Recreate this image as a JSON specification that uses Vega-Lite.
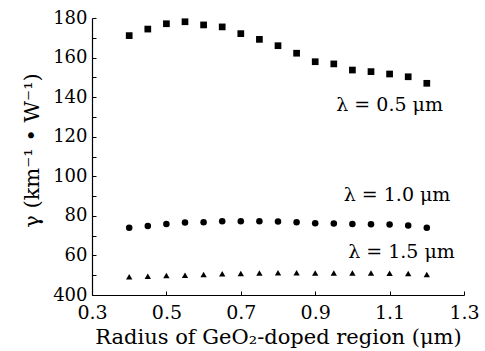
{
  "$schema": "https://vega.github.io/schema/vega-lite/v6.json",
  "width": 372,
  "height": 277,
  "autosize": "none",
  "padding": {"left": 92, "top": 18, "right": 21, "bottom": 56},
  "background": "white",
  "config": {
    "view": {"stroke": null},
    "font": "DejaVu Serif",
    "axis": {
      "domainColor": "black",
      "tickColor": "black",
      "labelColor": "black",
      "titleColor": "black",
      "labelFont": "DejaVu Serif",
      "titleFont": "DejaVu Serif",
      "titleFontWeight": "normal",
      "grid": false,
      "domainWidth": 1.2,
      "tickWidth": 1,
      "labelFlush": false,
      "labelOverlap": false
    }
  },
  "datasets": {
    "pts": [
      {"r": 0.40, "g": 171.1, "s": "0.5"}, {"r": 0.45, "g": 174.4, "s": "0.5"}, {"r": 0.50, "g": 177.1, "s": "0.5"},
      {"r": 0.55, "g": 178.1, "s": "0.5"}, {"r": 0.60, "g": 176.5, "s": "0.5"}, {"r": 0.65, "g": 175.5, "s": "0.5"},
      {"r": 0.70, "g": 172.1, "s": "0.5"}, {"r": 0.75, "g": 169.2, "s": "0.5"}, {"r": 0.80, "g": 166.0, "s": "0.5"},
      {"r": 0.85, "g": 162.2, "s": "0.5"}, {"r": 0.90, "g": 157.9, "s": "0.5"}, {"r": 0.95, "g": 156.8, "s": "0.5"},
      {"r": 1.00, "g": 153.7, "s": "0.5"}, {"r": 1.05, "g": 152.9, "s": "0.5"}, {"r": 1.10, "g": 151.7, "s": "0.5"},
      {"r": 1.15, "g": 150.3, "s": "0.5"}, {"r": 1.20, "g": 147.0, "s": "0.5"},
      {"r": 0.40, "g": 74.0, "s": "1.0"}, {"r": 0.45, "g": 74.9, "s": "1.0"}, {"r": 0.50, "g": 75.9, "s": "1.0"},
      {"r": 0.55, "g": 76.6, "s": "1.0"}, {"r": 0.60, "g": 76.8, "s": "1.0"}, {"r": 0.65, "g": 77.3, "s": "1.0"},
      {"r": 0.70, "g": 77.3, "s": "1.0"}, {"r": 0.75, "g": 77.3, "s": "1.0"}, {"r": 0.80, "g": 77.1, "s": "1.0"},
      {"r": 0.85, "g": 76.8, "s": "1.0"}, {"r": 0.90, "g": 76.3, "s": "1.0"}, {"r": 0.95, "g": 76.1, "s": "1.0"},
      {"r": 1.00, "g": 75.9, "s": "1.0"}, {"r": 1.05, "g": 75.8, "s": "1.0"}, {"r": 1.10, "g": 75.6, "s": "1.0"},
      {"r": 1.15, "g": 75.1, "s": "1.0"}, {"r": 1.20, "g": 74.0, "s": "1.0"},
      {"r": 0.40, "g": 49.2, "s": "1.5"}, {"r": 0.45, "g": 49.5, "s": "1.5"}, {"r": 0.50, "g": 49.9, "s": "1.5"},
      {"r": 0.55, "g": 50.0, "s": "1.5"}, {"r": 0.60, "g": 50.4, "s": "1.5"}, {"r": 0.65, "g": 50.7, "s": "1.5"},
      {"r": 0.70, "g": 50.9, "s": "1.5"}, {"r": 0.75, "g": 51.1, "s": "1.5"}, {"r": 0.80, "g": 51.2, "s": "1.5"},
      {"r": 0.85, "g": 51.2, "s": "1.5"}, {"r": 0.90, "g": 51.1, "s": "1.5"}, {"r": 0.95, "g": 51.1, "s": "1.5"},
      {"r": 1.00, "g": 51.1, "s": "1.5"}, {"r": 1.05, "g": 51.1, "s": "1.5"}, {"r": 1.10, "g": 51.0, "s": "1.5"},
      {"r": 1.15, "g": 50.9, "s": "1.5"}, {"r": 1.20, "g": 50.4, "s": "1.5"}
    ],
    "notes": [
      {"r": 1.10, "g": 136.0, "t": "λ = 0.5 μm"},
      {"r": 1.12, "g": 90.6, "t": "λ = 1.0 μm"},
      {"r": 1.132, "g": 61.8, "t": "λ = 1.5 μm"}
    ]
  },
  "resolve": {"axis": {"y": "independent"}},
  "layer": [
    {
      "data": {"name": "pts"},
      "mark": {"type": "point", "filled": true, "opacity": 1, "color": "black"},
      "encoding": {
        "x": {
          "field": "r", "type": "quantitative",
          "scale": {"domain": [0.3, 1.3], "nice": false, "zero": false},
          "title": "Radius of GeO₂-doped region (μm)",
          "axis": {
            "values": [0.3,0.35,0.4,0.45,0.5,0.55,0.6,0.65,0.7,0.75,0.8,0.85,0.9,0.95,1.0,1.05,1.1,1.15,1.2,1.25,1.3],
            "labelExpr": "round(datum.value*100) % 20 == 10 ? format(datum.value, '.1f') : ''",
            "labelFontSize": 19,
            "titleFontSize": 21,
            "tickSize": -4,
            "labelPadding": 12,
            "titlePadding": 4
          }
        },
        "y": {
          "field": "g", "type": "quantitative",
          "scale": {"domain": [40, 180], "nice": false, "zero": false},
          "title": "γ (km⁻¹ • W⁻¹)",
          "axis": {
            "orient": "left",
            "values": [40,60,80,100,120,140,160,180],
            "labelExpr": "datum.value == 40 ? '400' : datum.label",
            "labelFontSize": 18,
            "titleFontSize": 21,
            "titleY": 132,
            "tickSize": -4,
            "labelPadding": 9,
            "titlePadding": 10
          }
        },
        "shape": {
          "field": "s", "type": "nominal",
          "scale": {"domain": ["0.5", "1.0", "1.5"], "range": ["square", "circle", "triangle-up"]},
          "legend": null
        },
        "size": {
          "field": "s", "type": "nominal",
          "scale": {"domain": ["0.5", "1.0", "1.5"], "range": [45, 40, 42]},
          "legend": null
        }
      }
    },
    {
      "data": {"name": "notes"},
      "mark": {"type": "text", "font": "DejaVu Serif", "fontSize": 19, "color": "black", "align": "center", "baseline": "middle"},
      "encoding": {
        "x": {"field": "r", "type": "quantitative"},
        "y": {
          "field": "g", "type": "quantitative",
          "axis": {
            "orient": "left",
            "values": [50,70,90,110,130,150,170],
            "labels": false,
            "domain": false,
            "title": null,
            "tickSize": -4
          }
        },
        "text": {"field": "t"}
      }
    }
  ]
}
